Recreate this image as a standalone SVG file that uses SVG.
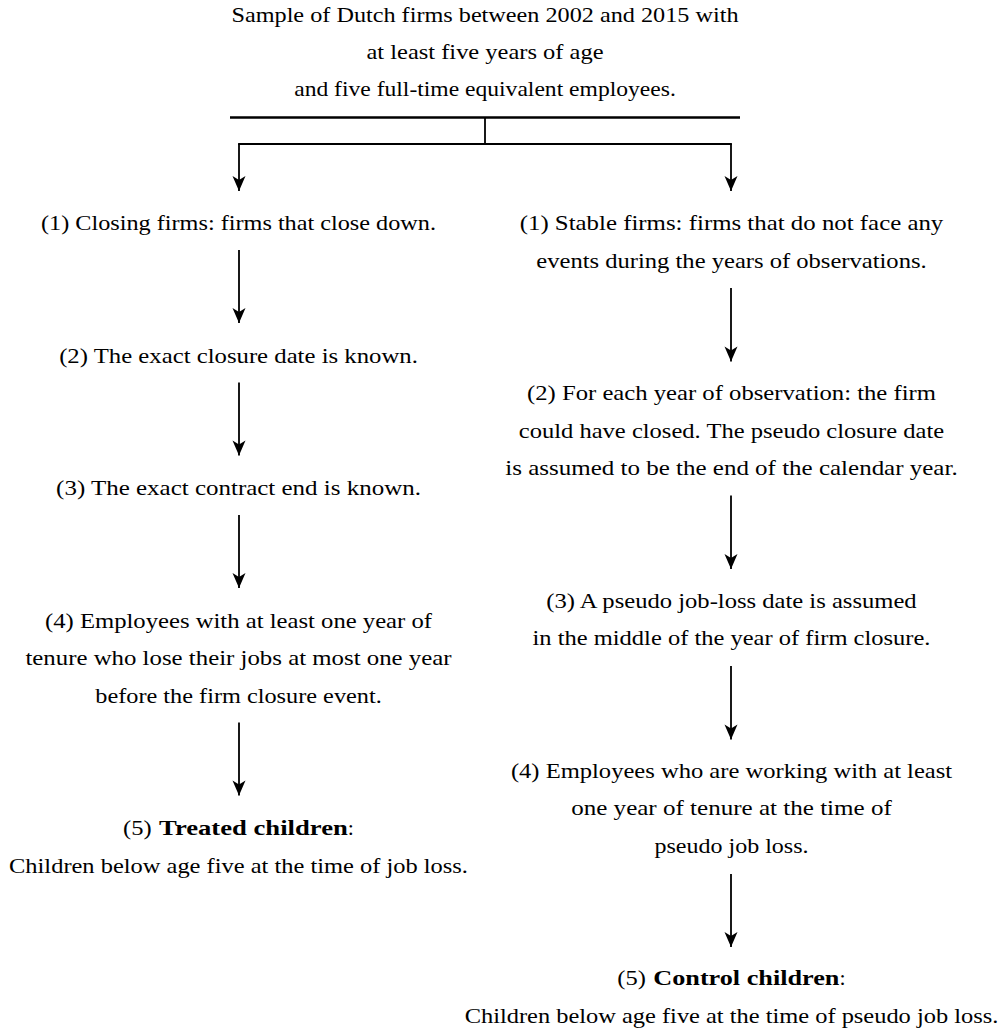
<svg xmlns="http://www.w3.org/2000/svg" width="1001" height="1032" viewBox="0 0 1001 1032">
  <style>
    text { font-family: "Liberation Serif", "Times New Roman", serif; font-size: 22px; fill: #000; }
    .c { text-anchor: middle; }
    .b { font-weight: bold; }
    .ln { stroke: #000; stroke-width: 1.8; fill: none; }
    .top { stroke: #000; stroke-width: 2.4; fill: none; }
  </style>
  <defs>
    <marker id="ah" viewBox="-16 -8 17 16" markerWidth="17" markerHeight="16" refX="0" refY="0" orient="auto" markerUnits="userSpaceOnUse">
      <path d="M0,0 L-15,-6.5 L-11,0 L-15,6.5 Z" fill="#000"/>
    </marker>
  </defs>
  <rect width="1001" height="1032" fill="#fff"/>

  <g id="title">
    <text class="c" x="485" y="22" textLength="507" lengthAdjust="spacingAndGlyphs">Sample of Dutch firms between 2002 and 2015 with</text>
    <text class="c" x="485" y="59" textLength="237" lengthAdjust="spacingAndGlyphs">at least five years of age</text>
    <text class="c" x="485" y="96" textLength="381.6" lengthAdjust="spacingAndGlyphs">and five full-time equivalent employees.</text>
  </g>

  <g id="left1">
    <text class="c" x="238.5" y="230" textLength="395" lengthAdjust="spacingAndGlyphs">(1) Closing firms: firms that close down.</text>
  </g>
  <g id="left2">
    <text class="c" x="238.5" y="362.5" textLength="358.7" lengthAdjust="spacingAndGlyphs">(2) The exact closure date is known.</text>
  </g>
  <g id="left3">
    <text class="c" x="238.5" y="495" textLength="364.8" lengthAdjust="spacingAndGlyphs">(3) The exact contract end is known.</text>
  </g>
  <g id="left4">
    <text class="c" x="238.5" y="627.5" textLength="387" lengthAdjust="spacingAndGlyphs">(4) Employees with at least one year of</text>
    <text class="c" x="238.5" y="665" textLength="426.2" lengthAdjust="spacingAndGlyphs">tenure who lose their jobs at most one year</text>
    <text class="c" x="238.5" y="702.5" textLength="286.5" lengthAdjust="spacingAndGlyphs">before the firm closure event.</text>
  </g>
  <g id="left5">
    <text x="123" y="835" textLength="28.6" lengthAdjust="spacingAndGlyphs">(5)</text>
    <text class="b" x="159.1" y="835" textLength="188.7" lengthAdjust="spacingAndGlyphs">Treated children</text>
    <text x="347.8" y="835">:</text>
    <text class="c" x="238.5" y="872.5" textLength="458.9" lengthAdjust="spacingAndGlyphs">Children below age five at the time of job loss.</text>
  </g>

  <g id="right1">
    <text class="c" x="731.5" y="230" textLength="423.6" lengthAdjust="spacingAndGlyphs">(1) Stable firms: firms that do not face any</text>
    <text class="c" x="731.5" y="267.5" textLength="390.3" lengthAdjust="spacingAndGlyphs">events during the years of observations.</text>
  </g>
  <g id="right2">
    <text class="c" x="731.5" y="400" textLength="408.9" lengthAdjust="spacingAndGlyphs">(2) For each year of observation: the firm</text>
    <text class="c" x="731.5" y="437.5" textLength="425.4" lengthAdjust="spacingAndGlyphs">could have closed. The pseudo closure date</text>
    <text class="c" x="731.5" y="475" textLength="452.3" lengthAdjust="spacingAndGlyphs">is assumed to be the end of the calendar year.</text>
  </g>
  <g id="right3">
    <text class="c" x="731.5" y="607.5" textLength="370.3" lengthAdjust="spacingAndGlyphs">(3) A pseudo job-loss date is assumed</text>
    <text class="c" x="731.5" y="645" textLength="398" lengthAdjust="spacingAndGlyphs">in the middle of the year of firm closure.</text>
  </g>
  <g id="right4">
    <text class="c" x="731.5" y="777.5" textLength="441.2" lengthAdjust="spacingAndGlyphs">(4) Employees who are working with at least</text>
    <text class="c" x="731.5" y="815" textLength="320.6" lengthAdjust="spacingAndGlyphs">one year of tenure at the time of</text>
    <text class="c" x="731.5" y="852.5" textLength="154.1" lengthAdjust="spacingAndGlyphs">pseudo job loss.</text>
  </g>
  <g id="right5">
    <text x="617.3" y="985" textLength="28.6" lengthAdjust="spacingAndGlyphs">(5)</text>
    <text class="b" x="653.3" y="985" textLength="186.1" lengthAdjust="spacingAndGlyphs">Control children</text>
    <text x="839.4" y="985">:</text>
    <text class="c" x="731.5" y="1022.5" textLength="533.7" lengthAdjust="spacingAndGlyphs">Children below age five at the time of pseudo job loss.</text>
  </g>

  <g id="connectors">
    <line class="top" x1="230" y1="117.5" x2="740" y2="117.5"/>
    <line class="ln" x1="485" y1="117.5" x2="485" y2="144"/>
    <line class="ln" x1="238.1" y1="144" x2="731.9" y2="144"/>
    <line class="ln" x1="239" y1="144" x2="239" y2="191" marker-end="url(#ah)"/>
    <line class="ln" x1="731" y1="144" x2="731" y2="191" marker-end="url(#ah)"/>
    <line class="ln" x1="239" y1="250" x2="239" y2="323" marker-end="url(#ah)"/>
    <line class="ln" x1="239" y1="382.5" x2="239" y2="455.5" marker-end="url(#ah)"/>
    <line class="ln" x1="239" y1="515" x2="239" y2="588" marker-end="url(#ah)"/>
    <line class="ln" x1="239" y1="722.5" x2="239" y2="795.5" marker-end="url(#ah)"/>
    <line class="ln" x1="731" y1="288" x2="731" y2="361.5" marker-end="url(#ah)"/>
    <line class="ln" x1="731" y1="495.5" x2="731" y2="569" marker-end="url(#ah)"/>
    <line class="ln" x1="731" y1="666" x2="731" y2="739.5" marker-end="url(#ah)"/>
    <line class="ln" x1="731" y1="874" x2="731" y2="947" marker-end="url(#ah)"/>
  </g>
</svg>
